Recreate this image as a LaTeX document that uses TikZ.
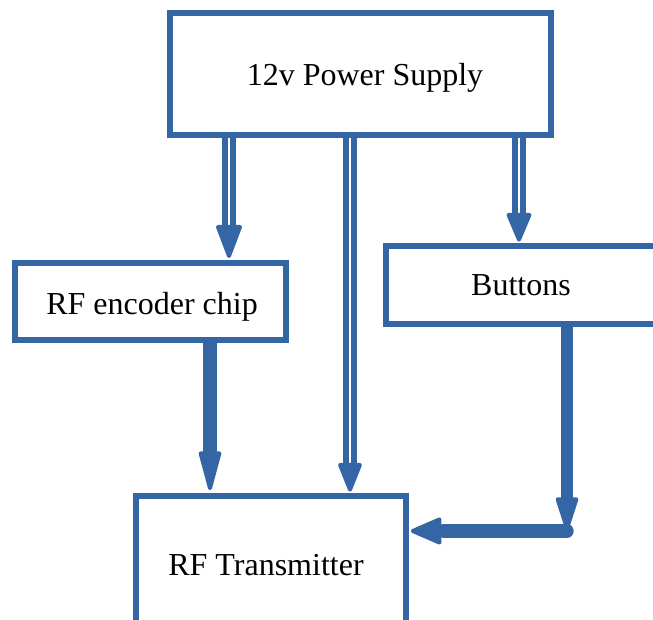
\documentclass[tikz,border=0pt]{standalone}
\usepackage{fontspec}
\setmainfont{Liberation Serif}
\usetikzlibrary{fit,backgrounds}
\definecolor{lblue}{RGB}{52,101,164}
\begin{document}
\begin{tikzpicture}[x=0.75pt,y=-0.75pt,
  box/.style={draw=lblue, line width=4.5pt, inner sep=0pt, fit=#1},
  lbl/.style={anchor=base, font=\fontsize{24pt}{28pt}\selectfont, text=black, inner sep=0pt},
  dshaft/.style={draw=lblue, line width=5pt, double=white, double distance=1.2pt},
  sshaft/.style={draw=lblue, line width=#1},
  hd/.style={fill=lblue, draw=lblue, line width=3pt, line join=round},
  headdown/.pic={\path[hd] (0,-4) -- (-11,-33) -- (11,-33) -- cycle;},
  headleft/.pic={\path[hd] (4,0) -- (32,-11) -- (32,11) -- cycle;}
]
\useasboundingbox (0,0) rectangle (653,620);
\clip (0,0) rectangle (653,620);

% boxes
\coordinate (p1) at (170,13);  \coordinate (p2) at (551,135);
\coordinate (e1) at (15,263);  \coordinate (e2) at (286,340);
\coordinate (b1) at (386,246); \coordinate (b2) at (690,324);
\coordinate (t1) at (136,496); \coordinate (t2) at (406,650);
\node[box={(p1)(p2)}] (ps) {};
\node[box={(e1)(e2)}] (enc) {};
\node[box={(b1)(b2)}] (btn) {};
\node[box={(t1)(t2)}] (tx) {};

% labels
\node[lbl] (psl) at (365,86) {12v Power Supply};
\node[lbl] (encl) at (152,315) {RF encoder chip};
\node[lbl] (btnl) at (521,296) {Buttons};
\node[lbl] (txl) at (266,575) {RF Transmitter};

% connector positions
\coordinate (xa) at (229,0);
\coordinate (xb) at (350,0);
\coordinate (xc) at (519,0);
\coordinate (xd) at (210,0);
\coordinate (xe) at (567,0);
\coordinate (ye) at (0,531);
\coordinate (corner) at (xe |- ye);

\begin{scope}[on background layer]
% power -> encoder
\draw[dshaft, shorten >=22pt] (ps.south -| xa) -- (enc.north -| xa);
\pic at (enc.north -| xa) {headdown};
% power -> transmitter
\draw[dshaft, shorten >=20pt] (ps.south -| xb) -- (tx.north -| xb);
\pic[xscale=0.9, yscale=0.85] at (tx.north -| xb) {headdown};
% power -> buttons
\draw[dshaft, shorten >=20pt] (ps.south -| xc) -- (btn.north -| xc);
\pic[xscale=0.95, yscale=0.85] at (btn.north -| xc) {headdown};
% encoder -> transmitter
\draw[sshaft=10.5pt, shorten >=26pt] (enc.south -| xd) -- (tx.north -| xd);
\pic[xscale=0.85, yscale=1.2] at (tx.north -| xd) {headdown};
% buttons -> transmitter (elbow)
\draw[sshaft=8.5pt, shorten >=22pt] (btn.south -| xe) -- (corner);
\pic[xscale=0.85, yscale=1.0] at ([yshift=-1pt]corner) {headdown};
\draw[sshaft=10pt, line cap=round, shorten >=26pt] (corner) -- (tx.east |- ye);
\pic[xscale=0.95, yscale=1.05] at (tx.east |- ye) {headleft};
\end{scope}
\end{tikzpicture}
\end{document}
